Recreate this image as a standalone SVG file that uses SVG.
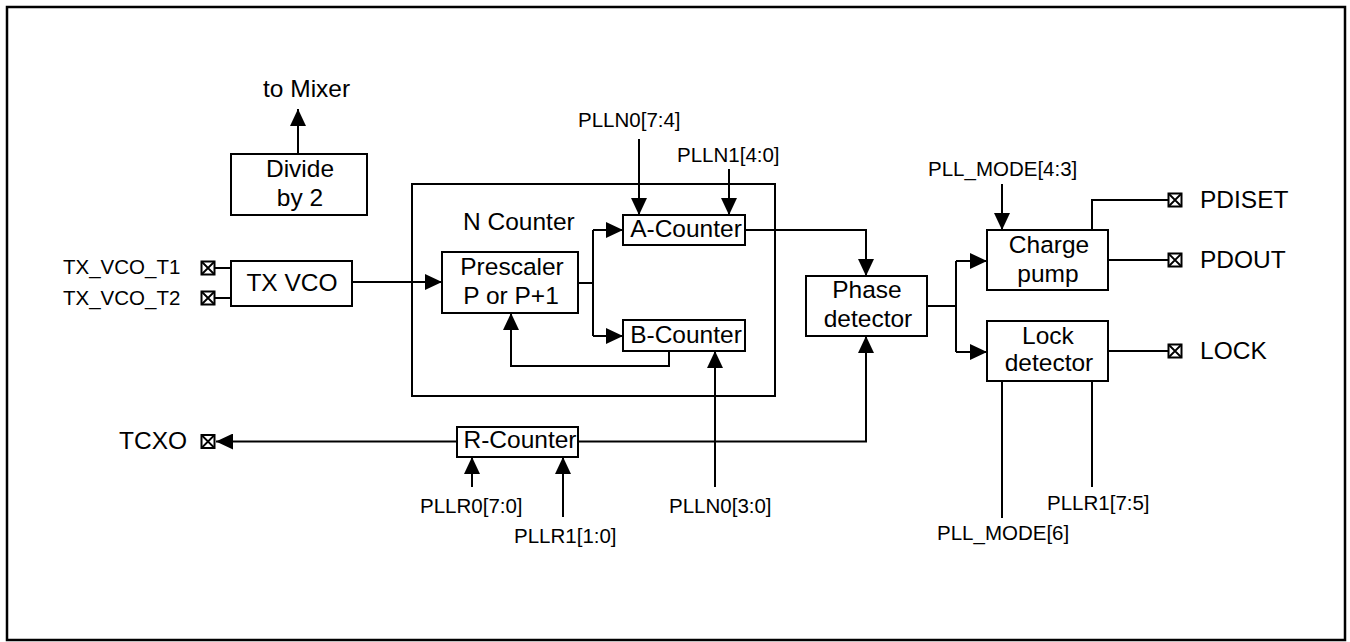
<svg xmlns="http://www.w3.org/2000/svg" width="1350" height="642" viewBox="0 0 1350 642">
<style>
.box{fill:#fff;stroke:#000;stroke-width:2}
.ln{fill:none;stroke:#000;stroke-width:2}
.arr{fill:none;stroke:#000;stroke-width:2;marker-end:url(#ah)}
.t{font-family:"Liberation Sans",Arial,sans-serif;font-size:24.5px;fill:#000}
.s{font-family:"Liberation Sans",Arial,sans-serif;font-size:20.5px;fill:#000}
.m{text-anchor:middle}
.pin{fill:#fff;stroke:#000;stroke-width:2}
</style>
<defs>
<marker id="ah" viewBox="0 0 17 16" refX="17" refY="8" markerWidth="17" markerHeight="16" markerUnits="userSpaceOnUse" orient="auto">
<path d="M0,0 L17,8 L0,16 z" fill="#000"/>
</marker>
<g id="pinsym">
<rect class="pin" x="-6.5" y="-6.5" width="13" height="13"/>
<path d="M-6.5,-6.5 L6.5,6.5 M6.5,-6.5 L-6.5,6.5" stroke="#000" stroke-width="1.8"/>
</g>
</defs>
<rect x="7" y="7" width="1338" height="633" fill="#fff" stroke="#000" stroke-width="2.5"/>

<g id="connectors">
<path class="arr" d="M298,154 V109"/>
<path class="ln" d="M215,268 H231 M215,298 H231"/>
<path class="arr" d="M352,282 H442"/>
<path class="ln" d="M578,283 H593 M593,230 V336"/>
<path class="arr" d="M593,230 H623"/>
<path class="arr" d="M593,336 H623"/>
<path class="arr" d="M669,351 V366 H511 V313"/>
<path class="arr" d="M639,139 V215"/>
<path class="arr" d="M729,169 V215"/>
<path class="arr" d="M715,487 V351"/>
<path class="arr" d="M745,230 H866 V276"/>
<path class="arr" d="M578,441.5 H866 V336"/>
<path class="arr" d="M457,441.5 H216"/>
<path class="ln" d="M927,306 H956 M956,261 V352"/>
<path class="arr" d="M956,261 H987"/>
<path class="arr" d="M956,352 H987"/>
<path class="arr" d="M1002,184 V230"/>
<path class="ln" d="M1092,230 V200 H1168"/>
<path class="ln" d="M1108,260 H1168"/>
<path class="ln" d="M1108,351 H1168"/>
<path class="ln" d="M1002,381 V518"/>
<path class="ln" d="M1092,381 V487"/>
<path class="arr" d="M472,487 V457"/>
<path class="arr" d="M563,517 V457"/>
</g>

<g id="divide">
<rect class="box" x="231" y="154" width="136" height="61"/>
<text class="t m" x="300" y="177">Divide</text>
<text class="t m" x="300" y="206">by 2</text>
</g>
<g id="tomixer"><text class="t" x="263" y="97">to Mixer</text></g>

<g id="txvco">
<rect class="box" x="231" y="261" width="121" height="45"/>
<text class="t m" x="292" y="291">TX VCO</text>
</g>
<g id="pin-t1"><use href="#pinsym" x="208" y="268"/><text class="s" x="63" y="274">TX_VCO_T1</text></g>
<g id="pin-t2"><use href="#pinsym" x="208" y="298"/><text class="s" x="63" y="305">TX_VCO_T2</text></g>

<g id="ncounter">
<rect x="412" y="184" width="363" height="212" fill="none" stroke="#000" stroke-width="2"/>
<text class="t" x="463" y="230">N Counter</text>
</g>
<g id="prescaler">
<rect class="box" x="442" y="252" width="136" height="61"/>
<text class="t m" x="512" y="275">Prescaler</text>
<text class="t m" x="511" y="304">P or P+1</text>
</g>
<g id="acounter">
<rect class="box" x="623" y="215" width="122" height="30"/>
<text class="t m" x="686" y="237">A-Counter</text>
</g>
<g id="bcounter">
<rect class="box" x="623" y="320" width="122" height="31"/>
<text class="t m" x="686" y="343">B-Counter</text>
</g>
<g id="rcounter">
<rect class="box" x="457" y="427" width="121" height="30"/>
<text class="t m" x="520" y="448">R-Counter</text>
</g>
<g id="phase">
<rect class="box" x="806" y="276" width="121" height="60"/>
<text class="t m" x="867" y="298">Phase</text>
<text class="t m" x="868" y="327">detector</text>
</g>
<g id="chargepump">
<rect class="box" x="987" y="230" width="121" height="60"/>
<text class="t m" x="1049" y="253">Charge</text>
<text class="t m" x="1048" y="282">pump</text>
</g>
<g id="lockdet">
<rect class="box" x="987" y="321" width="121" height="60"/>
<text class="t m" x="1048" y="344">Lock</text>
<text class="t m" x="1049" y="371">detector</text>
</g>

<g id="tcxo"><use href="#pinsym" x="208" y="441.5"/><text class="t" x="119" y="449">TCXO</text></g>
<g id="pdiset"><use href="#pinsym" x="1175" y="200"/><text class="t" x="1200" y="208">PDISET</text></g>
<g id="pdout"><use href="#pinsym" x="1175" y="260"/><text class="t" x="1200" y="268">PDOUT</text></g>
<g id="lock"><use href="#pinsym" x="1175" y="351"/><text class="t" x="1200" y="359">LOCK</text></g>

<g id="labels">
<text class="s" x="578" y="127">PLLN0[7:4]</text>
<text class="s" x="677" y="162">PLLN1[4:0]</text>
<text class="s" x="928" y="176">PLL_MODE[4:3]</text>
<text class="s" x="420" y="513">PLLR0[7:0]</text>
<text class="s" x="514" y="543">PLLR1[1:0]</text>
<text class="s" x="669" y="513">PLLN0[3:0]</text>
<text class="s" x="937" y="540">PLL_MODE[6]</text>
<text class="s" x="1047" y="510">PLLR1[7:5]</text>
</g>
</svg>
